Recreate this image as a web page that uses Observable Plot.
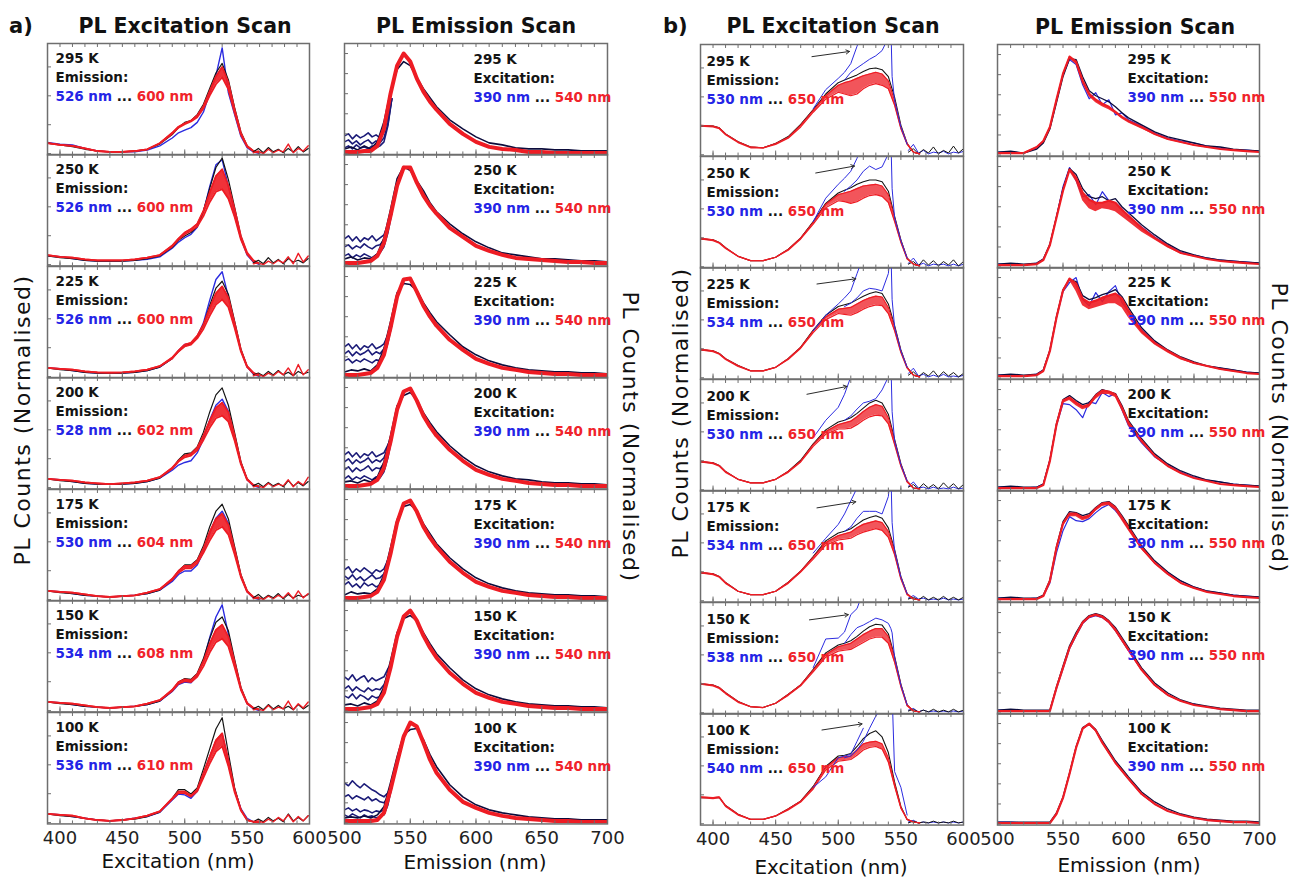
<!DOCTYPE html>
<html>
<head>
<meta charset="utf-8">
<script src="https://cdn.jsdelivr.net/npm/d3@7"></script>
<script src="https://cdn.jsdelivr.net/npm/@observablehq/plot@0.6"></script>
<style>
  body { margin: 0; background: #fff; }
  #fig { position: relative; width: 1293px; height: 879px; overflow: hidden; font-family: "DejaVu Sans", sans-serif; }
</style>
</head>
<body>
<div id="fig"></div>
<script>
// ---------- shared ----------
const temps = ["295 K", "250 K", "225 K", "200 K", "175 K", "150 K", "100 K"];

// ---------- a) PL excitation scan ----------
const excA_x = [390,400,410,420,430,440,450,460,470,480,490,495,500,505,510,515,520,525,530,535,540,545,550,555,560];
const excA_red = [
  [.12,.10,.09,.06,.03,.02,.02,.03,.05,.12,.24,.31,.35,.38,.44,.55,.72,.89,1.0,.82,.51,.24,.09,.03,.01],
  [.11,.09,.08,.06,.05,.05,.05,.06,.08,.11,.22,.30,.37,.41,.47,.62,.83,1.02,1.10,.91,.64,.33,.14,.05,.01],
  [.10,.09,.08,.06,.05,.045,.05,.06,.08,.12,.22,.30,.37,.39,.47,.60,.79,.96,1.04,.91,.62,.31,.12,.045,.01],
  [.10,.09,.08,.06,.05,.04,.05,.06,.08,.12,.23,.31,.37,.39,.46,.60,.77,.92,.98,.87,.60,.29,.10,.03,.01],
  [.10,.09,.08,.06,.04,.03,.04,.05,.08,.12,.24,.33,.39,.39,.45,.59,.78,.93,.99,.86,.58,.28,.10,.03,.01],
  [.10,.09,.08,.06,.04,.03,.04,.05,.08,.12,.24,.33,.36,.35,.42,.57,.77,.93,.99,.85,.56,.26,.09,.03,.01],
  [.10,.09,.08,.05,.03,.02,.03,.05,.08,.13,.28,.36,.36,.31,.38,.57,.76,.95,1.03,.72,.38,.15,.03,.01,.0]
];
const excA_redLo = [
  [.12,.10,.09,.06,.03,.02,.02,.03,.05,.12,.23,.30,.34,.37,.42,.52,.67,.80,.88,.74,.47,.22,.08,.03,.01],
  [.11,.09,.08,.06,.05,.05,.05,.06,.08,.11,.21,.29,.35,.39,.44,.56,.72,.84,.87,.76,.55,.29,.12,.04,.01],
  [.10,.09,.08,.06,.05,.045,.05,.06,.08,.12,.21,.29,.35,.37,.44,.55,.70,.83,.89,.80,.56,.29,.11,.04,.01],
  [.10,.09,.08,.06,.05,.04,.05,.06,.08,.12,.22,.30,.35,.37,.43,.55,.69,.80,.83,.76,.54,.27,.09,.03,.01],
  [.10,.09,.08,.06,.04,.03,.04,.05,.08,.12,.23,.31,.36,.36,.42,.54,.68,.80,.84,.75,.52,.26,.09,.03,.01],
  [.10,.09,.08,.06,.04,.03,.04,.05,.08,.12,.23,.31,.34,.33,.39,.51,.67,.79,.83,.74,.50,.24,.08,.03,.01],
  [.10,.09,.08,.05,.03,.02,.03,.05,.08,.13,.27,.34,.34,.30,.36,.52,.68,.82,.88,.65,.35,.14,.03,.01,.0]
];
const excA_black = [
  [.12,.10,.08,.05,.03,.02,.02,.03,.05,.11,.22,.30,.36,.38,.45,.57,.75,.93,1.04,.85,.53,.25,.09,.03,.01],
  [.10,.08,.07,.05,.04,.04,.04,.05,.07,.10,.20,.28,.33,.37,.44,.62,.88,1.12,1.23,.98,.66,.33,.13,.04,.01],
  [.10,.08,.07,.05,.04,.04,.04,.05,.07,.11,.21,.29,.35,.38,.46,.60,.82,1.02,1.10,.95,.64,.32,.12,.04,.01],
  [.10,.08,.07,.05,.04,.04,.04,.05,.07,.11,.22,.32,.39,.40,.47,.64,.87,1.07,1.15,.95,.63,.30,.10,.03,.01],
  [.10,.08,.07,.05,.04,.03,.04,.05,.07,.11,.23,.33,.40,.40,.46,.62,.84,1.02,1.10,.93,.61,.29,.10,.03,.01],
  [.10,.08,.07,.05,.04,.03,.04,.05,.07,.11,.23,.33,.37,.36,.43,.60,.83,1.02,1.08,.92,.59,.27,.09,.03,.01],
  [.10,.08,.07,.05,.03,.02,.03,.04,.07,.12,.28,.38,.38,.33,.40,.62,.85,1.08,1.21,.80,.40,.15,.03,.01,.0]
];
const excA_blue = [
  [.13,.11,.10,.06,.03,.02,.02,.02,.04,.09,.18,.24,.27,.30,.36,.48,.70,.90,1.22,.70,.45,.20,.07,.02,.0],
  [.10,.09,.07,.05,.04,.04,.04,.05,.06,.09,.19,.26,.31,.35,.43,.61,.90,1.15,1.21,.90,.60,.30,.11,.03,.0],
  [.10,.09,.07,.05,.04,.04,.04,.05,.07,.11,.21,.30,.37,.38,.46,.62,.88,1.12,1.21,.92,.60,.30,.11,.03,.0],
  [.10,.09,.07,.05,.04,.04,.04,.05,.07,.11,.20,.26,.29,.31,.40,.56,.78,.95,1.02,.88,.58,.28,.09,.02,.0],
  [.10,.09,.07,.05,.04,.03,.04,.05,.07,.11,.21,.29,.33,.33,.40,.55,.76,.94,1.02,.88,.57,.27,.09,.02,.0],
  [.10,.09,.07,.05,.04,.03,.04,.05,.07,.11,.22,.30,.33,.32,.40,.58,.84,1.08,1.22,.88,.55,.25,.08,.02,.0],
  [.10,.09,.07,.05,.03,.02,.03,.05,.07,.12,.26,.33,.32,.28,.36,.56,.76,.94,1.02,.72,.38,.16,.05,.01,.0]
];
const excA_tailX = [555,559,563,567,571,575,579,583,587,591,595,599];
const excA_tailBlack = [
  [.02,.06,.01,.07,.02,.05,.01,.06,.02,.08,.02,.06],
  [.02,.05,.01,.08,.02,.06,.01,.07,.03,.05,.02,.07],
  [.02,.04,.01,.06,.02,.07,.02,.05,.01,.06,.03,.05],
  [.02,.05,.01,.06,.02,.05,.01,.08,.02,.06,.02,.07],
  [.02,.06,.01,.05,.02,.07,.01,.06,.02,.05,.03,.06],
  [.02,.05,.01,.07,.02,.06,.02,.05,.01,.07,.02,.06],
  [.01,.04,.01,.06,.02,.05,.01,.10,.02,.06,.02,.08]
];
const excA_tailRed = [
  [.01,.03,.0,.05,.01,.04,.02,.11,.01,.06,.03,.09],
  [.01,.02,.0,.04,.01,.05,.02,.09,.01,.13,.03,.10],
  [.01,.03,.0,.04,.01,.06,.02,.10,.01,.14,.02,.08],
  [.01,.02,.0,.05,.01,.04,.02,.09,.01,.07,.03,.12],
  [.01,.03,.0,.04,.01,.05,.02,.08,.01,.10,.02,.07],
  [.01,.02,.0,.06,.01,.04,.02,.11,.01,.08,.03,.10],
  [.01,.02,.0,.04,.01,.06,.02,.09,.01,.07,.02,.08]
];
const excA_emFrom = [526, 526, 526, 528, 530, 534, 536];
const excA_emTo = [600, 600, 600, 602, 604, 608, 610];

// ---------- a) PL emission scan ----------
const emA_x = [500,505,510,515,520,525,530,535,540,545,550,555,560,565,570,580,590,600,610,620,630,640,650,660,670,680,690,700];
const emA_red = [
  [.02,.02,.02,.03,.03,.08,.25,.60,.88,1.0,.92,.75,.62,.52,.44,.30,.20,.12,.07,.05,.04,.02,.02,.01,.01,.01,.01,.01],
  [.02,.02,.02,.03,.04,.09,.22,.49,.79,.97,.97,.82,.69,.59,.51,.37,.28,.19,.14,.10,.07,.06,.05,.04,.03,.03,.02,.02],
  [.02,.02,.02,.03,.04,.09,.22,.49,.80,.97,.98,.85,.71,.60,.51,.37,.27,.18,.13,.09,.07,.05,.04,.03,.03,.02,.02,.02],
  [.02,.02,.02,.03,.04,.08,.20,.46,.78,.96,.99,.87,.72,.61,.52,.38,.27,.18,.13,.09,.07,.05,.04,.03,.03,.02,.02,.02],
  [.02,.02,.02,.03,.04,.08,.20,.46,.77,.96,.99,.88,.73,.62,.53,.38,.27,.18,.13,.09,.07,.05,.04,.03,.03,.02,.02,.02],
  [.02,.02,.02,.03,.04,.07,.18,.43,.74,.94,1.0,.90,.75,.63,.53,.38,.27,.18,.13,.09,.07,.05,.04,.03,.03,.02,.02,.02],
  [.02,.02,.02,.02,.02,.03,.10,.33,.60,.86,1.0,.96,.80,.63,.50,.33,.21,.15,.10,.07,.05,.04,.03,.02,.02,.01,.01,.01]
];
const emA_dark = [
  [.05,.07,.04,.08,.05,.12,.32,.62,.84,.92,.88,.76,.65,.56,.47,.34,.25,.17,.11,.09,.06,.05,.05,.04,.04,.03,.03,.03],
  [.06,.08,.05,.07,.06,.11,.27,.55,.86,.98,.94,.84,.74,.62,.53,.41,.31,.23,.17,.12,.10,.08,.06,.06,.05,.04,.04,.03],
  [.05,.07,.06,.08,.06,.12,.28,.55,.84,.93,.92,.86,.74,.64,.55,.42,.30,.22,.16,.12,.09,.07,.06,.05,.05,.04,.04,.03],
  [.06,.07,.05,.08,.06,.11,.26,.52,.82,.92,.95,.88,.75,.65,.56,.42,.31,.22,.16,.12,.09,.08,.06,.05,.05,.04,.04,.03],
  [.05,.08,.06,.07,.06,.11,.25,.52,.80,.93,.95,.89,.76,.66,.56,.42,.31,.22,.16,.12,.09,.07,.06,.05,.05,.04,.04,.03],
  [.06,.07,.05,.08,.06,.10,.24,.50,.78,.92,.95,.90,.78,.67,.57,.43,.31,.22,.16,.12,.09,.07,.06,.05,.05,.04,.04,.03],
  [.05,.06,.05,.07,.05,.08,.16,.40,.66,.88,.93,.94,.83,.68,.56,.38,.26,.18,.13,.10,.08,.06,.05,.04,.04,.03,.03,.03]
];
const emA_navyX = [500,503,506,509,512,515,518,521,524,527,530,533,536];
const emA_navy = [
  [[.18,.20,.15,.19,.16,.18,.21,.17,.19,.16,.22,.35,.55],[.12,.14,.10,.13,.09,.12,.14,.10,.13,.11,.16,.30,.55],[.06,.08,.05,.09,.06,.07,.05,.08,.06,.08,.12,.28,.55]],
  [[.26,.29,.24,.28,.23,.27,.25,.29,.24,.27,.30,.40,.52],[.18,.20,.16,.19,.17,.21,.18,.16,.19,.20,.25,.38,.52],[.09,.11,.07,.10,.08,.11,.09,.07,.10,.12,.18,.32,.52]],
  [[.30,.33,.28,.32,.27,.31,.29,.33,.28,.30,.33,.42,.52],[.23,.26,.21,.25,.22,.24,.27,.22,.25,.23,.28,.38,.52],[.16,.18,.14,.17,.15,.18,.16,.14,.17,.16,.21,.34,.52]],
  [[.33,.36,.31,.35,.30,.34,.32,.36,.31,.33,.35,.43,.50],[.26,.29,.24,.28,.25,.27,.30,.25,.28,.26,.30,.40,.50],[.18,.21,.16,.20,.17,.19,.22,.17,.20,.19,.24,.36,.50],[.09,.12,.08,.11,.09,.12,.10,.08,.11,.10,.16,.30,.50]],
  [[.30,.33,.27,.31,.28,.32,.29,.26,.30,.28,.31,.40,.50],[.24,.21,.25,.20,.23,.19,.22,.25,.21,.22,.26,.37,.50],[.15,.18,.13,.16,.12,.17,.14,.16,.13,.15,.20,.33,.50]],
  [[.34,.31,.36,.30,.33,.35,.29,.33,.30,.32,.34,.42,.48],[.22,.25,.20,.24,.21,.19,.23,.20,.22,.21,.26,.36,.48],[.15,.13,.17,.12,.16,.14,.11,.15,.13,.14,.19,.32,.48]],
  [[.40,.37,.42,.38,.35,.39,.36,.33,.31,.28,.26,.30,.38],[.26,.28,.24,.27,.25,.23,.26,.22,.24,.21,.20,.26,.36],[.13,.15,.12,.14,.11,.13,.12,.10,.12,.11,.13,.22,.36],[.08,.06,.09,.07,.05,.08,.06,.07,.05,.06,.08,.18,.36]]
];
const emA_exFrom = 390, emA_exTo = 540;

// ---------- b) PL excitation scan ----------
const excB_x = [390,400,405,410,420,430,440,450,460,470,480,490,500,505,510,515,520,525,530,535,540,545,550,555,560,565];
const excB_red = [
  [.34,.33,.31,.24,.15,.09,.08,.13,.20,.34,.51,.68,.80,.83,.85,.88,.91,.93,.95,.93,.85,.62,.32,.13,.03,.01],
  [.33,.31,.28,.22,.12,.07,.07,.11,.20,.33,.51,.72,.83,.85,.87,.90,.93,.94,.95,.93,.83,.56,.30,.10,.03,.01],
  [.33,.31,.28,.22,.14,.08,.08,.12,.22,.35,.54,.70,.79,.80,.81,.85,.89,.92,.94,.93,.81,.58,.31,.12,.03,.01],
  [.33,.31,.28,.21,.12,.08,.08,.12,.21,.33,.52,.67,.75,.77,.79,.84,.90,.95,.98,.96,.83,.56,.29,.10,.02,.01],
  [.33,.31,.28,.21,.11,.07,.07,.11,.21,.34,.50,.67,.75,.77,.79,.84,.88,.90,.92,.90,.80,.57,.27,.08,.02,.01],
  [.34,.32,.29,.23,.13,.07,.06,.11,.21,.32,.49,.67,.76,.78,.80,.85,.90,.94,.97,.97,.88,.63,.32,.09,.02,.01],
  [.31,.30,.31,.21,.11,.05,.05,.09,.17,.26,.42,.65,.76,.77,.78,.85,.92,.94,.95,.92,.76,.46,.19,.05,.02,.01]
];
const excB_redLo = [
  [.33,.32,.30,.23,.14,.08,.08,.12,.19,.32,.49,.64,.72,.70,.68,.70,.76,.80,.82,.80,.76,.57,.30,.12,.03,.01],
  [.32,.30,.27,.21,.12,.07,.07,.11,.19,.32,.49,.68,.76,.75,.73,.75,.79,.82,.83,.81,.74,.52,.28,.09,.03,.01],
  [.32,.30,.27,.21,.13,.08,.08,.12,.21,.34,.52,.67,.74,.73,.72,.75,.79,.82,.84,.83,.74,.54,.29,.11,.03,.01],
  [.32,.30,.27,.20,.12,.08,.08,.12,.20,.32,.50,.64,.70,.70,.71,.75,.80,.84,.86,.85,.76,.52,.27,.09,.02,.01],
  [.32,.30,.27,.20,.11,.07,.07,.11,.20,.33,.48,.64,.70,.71,.72,.76,.79,.81,.83,.81,.73,.53,.25,.07,.02,.01],
  [.33,.31,.28,.22,.12,.07,.06,.11,.20,.31,.47,.64,.71,.72,.73,.77,.81,.85,.87,.87,.80,.58,.30,.08,.02,.01],
  [.30,.29,.30,.20,.10,.05,.05,.09,.16,.25,.40,.62,.72,.73,.74,.79,.85,.88,.89,.86,.71,.43,.18,.05,.02,.01]
];
const excB_black = [
  [.33,.33,.31,.24,.15,.09,.08,.13,.21,.35,.52,.70,.83,.86,.89,.92,.96,.99,1.0,.98,.90,.66,.34,.13,.03,.01],
  [.32,.31,.28,.22,.12,.07,.07,.11,.20,.33,.52,.73,.85,.88,.91,.95,.98,1.0,1.0,.98,.87,.58,.31,.10,.03,.01],
  [.32,.31,.28,.22,.14,.08,.08,.12,.22,.35,.55,.72,.82,.84,.86,.90,.94,.97,.99,.97,.85,.60,.32,.12,.03,.01],
  [.32,.31,.28,.21,.12,.08,.08,.12,.21,.34,.53,.69,.78,.80,.83,.88,.94,1.0,1.03,1.0,.87,.58,.30,.10,.02,.01],
  [.32,.31,.28,.21,.11,.07,.07,.11,.21,.34,.51,.69,.78,.80,.83,.88,.93,.96,.98,.95,.84,.59,.28,.08,.02,.01],
  [.33,.32,.29,.23,.13,.07,.06,.11,.21,.32,.50,.69,.78,.80,.83,.88,.94,.99,1.02,1.01,.91,.65,.33,.09,.02,.01],
  [.30,.30,.30,.21,.11,.05,.05,.09,.17,.26,.43,.66,.78,.79,.81,.89,.98,1.04,1.07,1.0,.82,.48,.20,.05,.02,.01]
];
const excB_blue1X = [480,490,500,505,510,515,520];
const excB_blue1 = [
  [.53,.75,.88,.95,1.05,1.25,1.45],
  [.52,.79,.95,1.02,1.10,1.25,1.45],
  [.54,.72,.85,.92,1.00,1.20,1.40],
  [.60,.80,.95,1.10,1.30,1.50,1.50],
  [.55,.72,.88,1.00,1.15,1.30,1.50],
  [.52,.85,.86,.93,1.13,1.20,1.40],
  [.42,.54,.76,.78,.80,.95,1.10]
];
const excB_blue2X = [505,510,515,520,525,530,535,540,542,543,545,550,555];
const excB_blue2 = [
  [.86,.95,1.0,1.05,1.1,1.14,1.2,1.35,1.5,.9,.62,.32,.12],
  [.87,.93,1.0,1.1,1.16,1.12,1.15,1.3,1.5,.9,.56,.30,.10],
  [.82,.86,.92,1.0,1.03,1.02,1.0,1.2,1.5,.9,.58,.31,.12],
  [.80,.85,.93,1.0,1.02,1.05,1.15,1.3,1.5,.9,.56,.29,.10],
  [.80,.85,.95,1.03,1.03,1.03,1.0,1.2,1.5,.9,.57,.27,.08],
  [.80,.90,.98,1.01,1.05,1.09,1.07,1.03,.97,.92,.63,.32,.09],
  [.76,.78,.85,.95,1.10,1.24,1.35,1.50,1.50,1.50,.60,.42,.10]
];
const excB_tailX = [556,560,564,568,572,576,580,584,588,592,596,600];
const excB_tailDark = [
  [.03,.07,.01,.06,.02,.09,.01,.05,.02,.10,.02,.07],
  [.03,.06,.01,.08,.02,.07,.01,.06,.02,.08,.01,.06],
  [.03,.07,.01,.06,.02,.08,.01,.07,.02,.06,.01,.05],
  [.03,.06,.01,.07,.02,.06,.01,.08,.02,.07,.01,.06],
  [.02,.04,.01,.05,.01,.04,.01,.05,.01,.04,.01,.04],
  [.02,.04,.01,.03,.01,.04,.01,.03,.01,.04,.01,.03],
  [.01,.03,.01,.02,.01,.03,.01,.02,.01,.03,.01,.02]
];
const excB_tailBlue = [
  [.05,.12,.02,.05,.01,.03,.02,.04,.01,.03,.02,.04],
  [.04,.10,.02,.04,.01,.03,.02,.03,.01,.03,.01,.03],
  [.05,.11,.02,.04,.01,.03,.01,.04,.01,.02,.01,.03],
  [.04,.09,.02,.03,.01,.03,.01,.02,.01,.03,.01,.02],
  [.03,.06,.02,.03,.01,.02,.01,.03,.01,.02,.01,.02],
  [.03,.05,.01,.03,.01,.02,.01,.02,.01,.02,.01,.02],
  [.02,.04,.01,.02,.01,.02,.01,.02,.01,.02,.01,.02]
];
// arrows pointing at the blue outliers
const excB_arrowX1 = [479, 482, 483, 475, 483, 477, 487];
const excB_arrowY1 = [1.13, 1.08, 1.08, 1.10, 1.07, 1.07, 1.08];
const excB_arrowX2 = [509, 513, 514, 507, 514, 508, 519];
const excB_arrowY2 = [1.19, 1.16, 1.14, 1.19, 1.14, 1.13, 1.15];
const excB_emFrom = [530, 530, 534, 530, 534, 538, 540];
const excB_emTo = 650;

// ---------- b) PL emission scan ----------
const emB_x = [500,510,520,530,535,540,545,550,555,560,565,570,575,580,585,590,595,600,610,620,630,640,650,660,670,680,690,700];
const emB_red = [
  [.02,.02,.02,.08,.14,.28,.55,.81,.98,.93,.74,.61,.55,.51,.48,.43,.38,.34,.28,.21,.16,.13,.10,.08,.06,.05,.04,.03],
  [.02,.02,.02,.03,.07,.22,.49,.76,.97,.89,.74,.67,.64,.64,.66,.64,.57,.51,.39,.29,.21,.14,.11,.08,.06,.05,.04,.03],
  [.02,.02,.02,.03,.07,.27,.60,.87,.99,.94,.79,.75,.77,.80,.82,.84,.79,.67,.47,.35,.27,.20,.15,.12,.09,.07,.05,.04],
  [.02,.02,.02,.02,.05,.29,.65,.89,.92,.87,.83,.85,.94,.99,.98,.95,.82,.67,.49,.34,.24,.17,.12,.09,.06,.05,.04,.03],
  [.02,.02,.02,.02,.05,.20,.53,.77,.87,.87,.83,.85,.92,.97,.98,.93,.83,.73,.53,.38,.27,.18,.13,.09,.07,.05,.04,.03],
  [.02,.02,.02,.02,.02,.02,.25,.45,.65,.78,.90,.96,.98,.96,.91,.83,.73,.63,.43,.28,.18,.12,.08,.06,.04,.03,.02,.02],
  [.01,.01,.01,.01,.01,.01,.10,.26,.50,.76,.95,1.0,.93,.81,.71,.61,.53,.45,.30,.20,.13,.09,.06,.04,.03,.02,.02,.01]
];
const emB_redLo = [
  [.02,.02,.02,.07,.13,.27,.53,.79,.96,.90,.71,.58,.52,.48,.45,.41,.36,.32,.26,.20,.15,.12,.09,.07,.06,.05,.04,.03],
  [.02,.02,.02,.03,.07,.22,.48,.74,.95,.85,.66,.58,.55,.58,.57,.55,.50,.45,.35,.27,.19,.13,.10,.08,.06,.05,.04,.03],
  [.02,.02,.02,.03,.07,.26,.58,.85,.97,.86,.72,.68,.70,.72,.74,.74,.70,.60,.44,.33,.25,.18,.14,.11,.08,.06,.05,.04],
  [.02,.02,.02,.02,.05,.28,.63,.86,.89,.84,.80,.82,.90,.95,.95,.92,.79,.64,.47,.33,.23,.16,.12,.09,.06,.05,.04,.03],
  [.02,.02,.02,.02,.05,.19,.51,.74,.84,.84,.80,.82,.89,.94,.95,.90,.80,.70,.51,.37,.26,.17,.12,.09,.07,.05,.04,.03],
  [.02,.02,.02,.02,.02,.02,.23,.43,.63,.76,.88,.94,.96,.94,.89,.81,.71,.61,.42,.27,.17,.11,.08,.06,.04,.03,.02,.02],
  [.01,.01,.01,.01,.01,.01,.09,.25,.48,.74,.93,.98,.92,.80,.70,.60,.52,.44,.29,.19,.13,.09,.06,.04,.03,.02,.02,.01]
];
const emB_dark = [
  [.03,.04,.02,.06,.12,.26,.52,.78,.96,.95,.78,.64,.59,.56,.53,.48,.42,.37,.30,.23,.18,.15,.12,.09,.08,.06,.05,.04],
  [.03,.04,.03,.04,.08,.23,.50,.78,.98,.92,.78,.70,.68,.70,.66,.68,.60,.54,.42,.32,.23,.16,.12,.09,.07,.06,.05,.04],
  [.03,.04,.03,.04,.08,.28,.61,.88,.98,.96,.82,.78,.80,.83,.85,.88,.81,.70,.50,.37,.28,.21,.16,.12,.10,.08,.06,.05],
  [.03,.04,.03,.03,.06,.30,.66,.90,.94,.89,.85,.87,.95,1.0,.98,.96,.84,.69,.51,.36,.26,.19,.14,.10,.08,.06,.05,.04],
  [.03,.04,.03,.03,.06,.21,.54,.79,.89,.88,.85,.87,.93,.98,.99,.94,.85,.75,.55,.40,.29,.20,.14,.10,.08,.06,.05,.04],
  [.03,.04,.03,.03,.03,.03,.26,.47,.67,.80,.91,.97,.99,.97,.92,.85,.75,.65,.45,.30,.20,.13,.09,.07,.05,.04,.03,.03],
  [.02,.02,.02,.02,.02,.02,.11,.27,.51,.77,.96,1.0,.94,.83,.73,.63,.55,.47,.32,.22,.15,.10,.07,.05,.04,.03,.03,.02]
];
const emB_blue = [
  [.03,.03,.02,.07,.13,.27,.54,.80,.95,.90,.70,.56,.62,.50,.55,.40,.42,.35,.29,.22,.17,.14,.12,.09,.07,.05,.05,.04],
  [.03,.03,.02,.04,.08,.22,.50,.80,.99,.86,.70,.72,.62,.75,.66,.64,.58,.50,.40,.30,.22,.15,.12,.09,.07,.06,.05,.04],
  [.03,.03,.02,.04,.08,.27,.60,.86,.95,1.0,.78,.72,.85,.76,.86,.92,.75,.66,.48,.36,.27,.20,.15,.12,.10,.08,.06,.05],
  [.03,.03,.02,.03,.06,.30,.64,.86,.85,.80,.72,.88,.86,.97,.93,.96,.80,.64,.47,.33,.25,.18,.13,.10,.08,.06,.05,.04],
  [.03,.03,.02,.03,.05,.18,.48,.70,.84,.80,.79,.82,.88,.93,.96,.90,.82,.72,.53,.38,.28,.20,.14,.10,.08,.06,.05,.04],
  [.03,.03,.02,.02,.02,.02,.24,.44,.64,.77,.89,.95,.97,.95,.90,.82,.72,.62,.43,.28,.18,.12,.09,.06,.04,.03,.02,.02],
  [.02,.02,.01,.01,.01,.01,.10,.26,.50,.76,.95,.99,.93,.82,.71,.62,.53,.45,.30,.20,.13,.09,.06,.04,.03,.02,.02,.01]
];
const emB_exFrom = 390, emB_exTo = 550;

// ---------- headings ----------
const panelTags = ["a)", "b)"];
const scanTitles = ["PL Excitation Scan", "PL Emission Scan", "PL Excitation Scan", "PL Emission Scan"];
const axisTitles = ["Excitation (nm)", "Emission (nm)", "Excitation (nm)", "Emission (nm)"];
const countsTitle = "PL Counts (Normalised)";

// ---------- drawing ----------
const RED = "#ee1c24", BLACK = "#141414", NAVY = "#1b1b78", NAVY_DARK = "#0c0c3c", BLUE = "#2b2be0";
const TXT_BLUE = "#2424e6", TXT_RED = "#f0232a", FRAME = "#6e6e6e";
const fig = document.getElementById("fig");
const svgNS = "http://www.w3.org/2000/svg";

const pts = (xs, ys) => xs.map((x, i) => ({x, y: ys[i]}));
const line = (xs, ys, stroke, strokeWidth) =>
  Plot.line(pts(xs, ys), {x: "x", y: "y", stroke, strokeWidth, strokeLinejoin: "round", clip: true});
const band = (xs, lo, hi, fillOpacity) =>
  Plot.areaY(xs.map((x, i) => ({x, lo: lo[i], hi: hi[i]})), {x: "x", y1: "lo", y2: "hi", fill: RED, fillOpacity, clip: true});

const cols = [
  {left: 47,  width: 262, top: 43, rowH: 111.43, xDomain: [390, 600], yDomain: [-0.015, 1.27], yTicks: [0, 1/3, 2/3, 1], labelDx: 8,   labelDy: 6.4},
  {left: 344, width: 263, top: 43, rowH: 111.43, xDomain: [500, 700], yDomain: [-0.01, 1.1],  yTicks: [0, .2, .4, .6, .8, 1], labelDx: 129, labelDy: 6.7},
  {left: 700, width: 263, top: 44, rowH: 111.57, xDomain: [390, 600], yDomain: [-0.015, 1.27], yTicks: [0, 1/3, 2/3, 1], labelDx: 6,   labelDy: 8.1},
  {left: 997, width: 262, top: 44, rowH: 111.57, xDomain: [500, 700], yDomain: [-0.01, 1.1],  yTicks: [0, .2, .4, .6, .8, 1], labelDx: 130, labelDy: 6.4}
];

function curves(c, r) {
  if (c === 0) return [
    line(excA_x, excA_blue[r], BLUE, 1.4),
    band(excA_x, excA_redLo[r], excA_red[r], 0.9),
    line(excA_x, excA_black[r], BLACK, 1.2),
    line(excA_x, excA_redLo[r], RED, 1.8),
    line(excA_x, excA_red[r], RED, 1.8),
    line(excA_tailX, excA_tailBlack[r], BLACK, 1.2),
    line(excA_tailX, excA_tailRed[r], RED, 1.4)
  ];
  if (c === 1) return [
    ...emA_navy[r].map(ys => line(emA_navyX, ys, NAVY, 1.6)),
    line(emA_x, emA_dark[r], NAVY_DARK, 1.6),
    line(emA_x, emA_red[r], RED, 4)
  ];
  if (c === 2) return [
    line(excB_tailX, excB_tailBlue[r], BLUE, 1),
    line(excB_tailX, excB_tailDark[r], BLACK, 1),
    band(excB_x, excB_redLo[r], excB_red[r], 0.75),
    line(excB_x, excB_black[r], BLACK, 1.1),
    line(excB_x, excB_redLo[r], RED, 1.2),
    line(excB_x, excB_red[r], RED, 1.2),
    line(excB_blue1X, excB_blue1[r], BLUE, 1),
    line(excB_blue2X, excB_blue2[r], BLUE, 1),
    Plot.arrow([r], {x1: i => excB_arrowX1[i], y1: i => excB_arrowY1[i], x2: i => excB_arrowX2[i], y2: i => excB_arrowY2[i],
      stroke: "#2a2a2a", strokeWidth: 1, headLength: 6})
  ];
  return [
    line(emB_x, emB_blue[r], BLUE, 1.2),
    line(emB_x, emB_dark[r], NAVY_DARK, 1.3),
    band(emB_x, emB_redLo[r], emB_red[r], 0.9),
    line(emB_x, emB_red[r], RED, 2.2)
  ];
}

function rowLabel(c, r) {
  if (c === 0) return `${temps[r]}\nEmission:\n${excA_emFrom[r]} nm ... ${excA_emTo[r]} nm`;
  if (c === 1) return `${temps[r]}\nExcitation:\n${emA_exFrom} nm ... ${emA_exTo} nm`;
  if (c === 2) return `${temps[r]}\nEmission:\n${excB_emFrom[r]} nm ... ${excB_emTo} nm`;
  return `${temps[r]}\nExcitation:\n${emB_exFrom} nm ... ${emB_exTo} nm`;
}

cols.forEach((col, c) => {
  const minor = d3.range(col.xDomain[0], col.xDomain[1] + 1, 10);
  const major = minor.filter(v => v % 50 === 0);
  temps.forEach((t, r) => {
    const last = r === temps.length - 1;
    const marks = [
      ...curves(c, r),
      Plot.axisX(minor, {anchor: "bottom", tickSize: -3, stroke: FRAME, fill: "none"}),
      Plot.axisX(major, {anchor: "bottom", tickSize: -5, stroke: FRAME, fill: "none"}),
      Plot.axisX(minor, {anchor: "top", tickSize: -3, stroke: FRAME, fill: "none"}),
      Plot.axisY(col.yTicks, {anchor: "left", tickSize: -4, stroke: FRAME, fill: "none"}),
      Plot.frame({stroke: FRAME, strokeWidth: 1.5}),
      Plot.text([rowLabel(c, r)], {text: d => d, frameAnchor: "top-left", textAnchor: "start", lineAnchor: "top",
        dx: col.labelDx, dy: col.labelDy, fontSize: 13.5, fontWeight: "bold", lineHeight: 1.41, fill: BLACK})
    ];
    if (last) marks.push(Plot.axisX(major, {anchor: "bottom", tickSize: 0, tickPadding: 7, fontSize: 18, fill: "#222", label: null}));
    const chart = Plot.plot({
      width: col.width, height: col.rowH, margin: 0,
      x: {domain: col.xDomain, axis: null},
      y: {domain: col.yDomain, axis: null},
      style: {fontFamily: "DejaVu Sans, sans-serif", background: "transparent", overflow: "visible"},
      marks
    });
    // colour the wavelength range: first value blue, last value red
    chart.querySelectorAll("tspan").forEach(ts => {
      const m = /^(\d+ nm) \.\.\. (\d+ nm)$/.exec(ts.textContent);
      if (!m) return;
      ts.textContent = "";
      [[m[1], TXT_BLUE], ["\u00a0...\u00a0", BLACK], [m[2], TXT_RED]].forEach(([s, color]) => {
        const e = document.createElementNS(svgNS, "tspan");
        e.setAttribute("fill", color);
        e.textContent = s;
        ts.appendChild(e);
      });
    });
    chart.style.position = "absolute";
    chart.style.left = col.left + "px";
    chart.style.top = (col.top + r * col.rowH) + "px";
    chart.style.maxWidth = "none";
    fig.appendChild(chart);
  });
});

// headings, axis titles and panel tags
const overlay = d3.select(fig).append("svg")
  .attr("width", 1293).attr("height", 879)
  .style("position", "absolute").style("left", "0px").style("top", "0px")
  .style("pointer-events", "none")
  .attr("font-family", "DejaVu Sans, sans-serif").attr("fill", "#111");

function label(text, x, y, size, weight, anchor, rotate, spacing) {
  overlay.append("text")
    .attr("transform", `translate(${x},${y}) rotate(${rotate || 0})`)
    .attr("text-anchor", anchor || "middle")
    .attr("dominant-baseline", rotate ? "central" : "auto")
    .attr("font-size", size).attr("font-weight", weight)
    .attr("letter-spacing", spacing || 0)
    .text(text);
}
label(panelTags[0], 9, 33, 21, "bold", "start");
label(panelTags[1], 663, 33, 21, "bold", "start");
[[185, 33], [476, 33], [833, 33], [1135, 34]].forEach(([x, y], i) => label(scanTitles[i], x, y, 20.5, "bold"));
[[178, 868], [475, 869], [831, 874], [1129, 872]].forEach(([x, y], i) => label(axisTitles[i], x, y, 20, "normal"));
label(countsTitle, 22, 420, 22, "normal", "middle", -90, 1.5);
label(countsTitle, 630, 437, 22, "normal", "middle", 90, 1.5);
label(countsTitle, 680, 413, 22, "normal", "middle", -90, 1.5);
label(countsTitle, 1279, 428, 22, "normal", "middle", 90, 1.5);
</script>
</body>
</html>
